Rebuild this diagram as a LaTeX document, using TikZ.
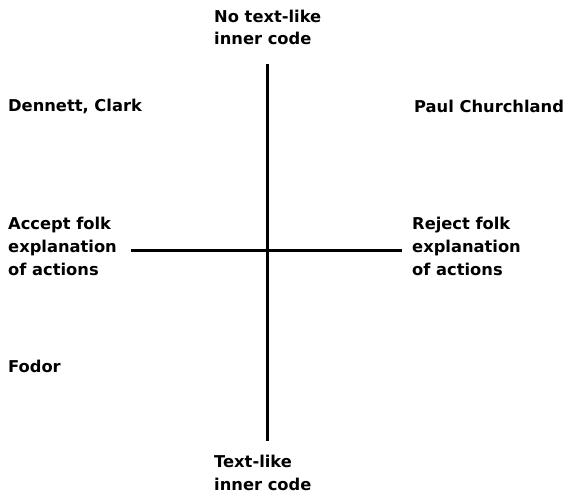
\documentclass[tikz,border=0pt]{standalone}
\usepackage{fontspec}
\setmainfont{DejaVu Sans}
\begin{document}
\begin{tikzpicture}[x=1pt,y=-1pt,
  lbl/.style={anchor=north west,inner sep=0pt,align=left,
    font=\fontsize{16.3}{23}\selectfont\bfseries},
  axis/.style={line width=3pt}]
\useasboundingbox[fill=white] (0,0) rectangle (572,498);
% quadrant labels
\node[lbl,font=\fontsize{16.3}{22}\selectfont\bfseries] (top) at (214,9.6) {No text-like\\inner code};
\node[lbl] (bottom) at (214,454.6) {Text-like\\inner code};
\node[lbl] (dc) at (8,98.7) {Dennett, Clark};
\node[lbl] (pc) at (414,99.7) {Paul Churchland};
\node[lbl] (accept) at (8,216.6) {Accept folk\\explanation\\of actions};
\node[lbl] (reject) at (412,216.6) {Reject folk\\explanation\\of actions};
\node[lbl] (fodor) at (8,359.7) {Fodor};
% axes
\coordinate (vt) at (267,64);
\coordinate (vb) at (267,441);
\coordinate (hl) at (131,250);
\coordinate (hr) at (402,250);
\draw[axis] (vt) -- (vb);
\draw[axis] (hl) -- (hr);
\end{tikzpicture}
\end{document}
